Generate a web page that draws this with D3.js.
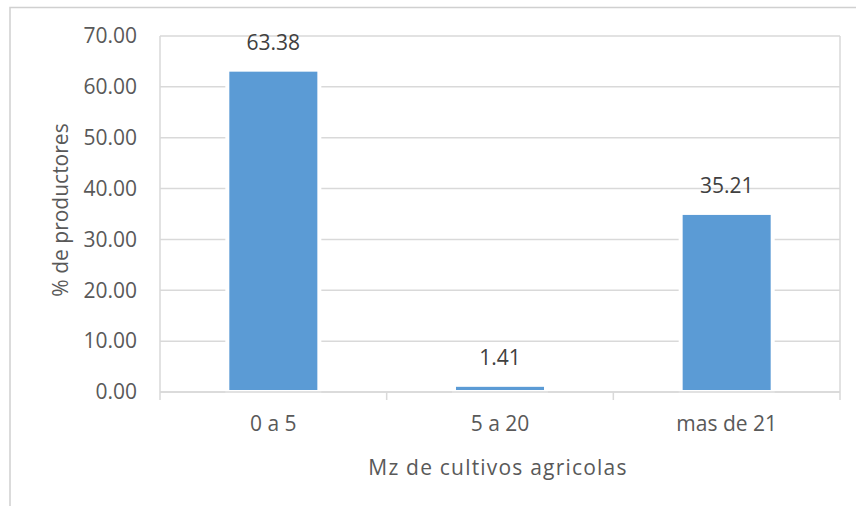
<!DOCTYPE html>
<html>
<head>
<meta charset="utf-8">
<script src="https://cdn.jsdelivr.net/npm/d3@7"></script>
<style>
  body { margin: 0; background: #fff; }
  text { font-family: "Open Sans", sans-serif; }
</style>
</head>
<body>
<div id="chart"></div>
<script>
const categorias = ["0 a 5", "5 a 20", "mas de 21"];
const valores = [63.38, 1.41, 35.21];
const yTicks = [0, 10, 20, 30, 40, 50, 60, 70];

const W = 856, H = 506;
const margin = {top: 36, right: 16, bottom: 114, left: 160};
const width = W - margin.left - margin.right,
      height = H - margin.top - margin.bottom;

const svg0 = d3.select("#chart").append("svg")
    .attr("width", W).attr("height", H);

// marco exterior
svg0.append("rect")
    .attr("x", 10).attr("y", 7.5)
    .attr("width", 900).attr("height", 600)
    .attr("fill", "none").attr("stroke", "#d0d0d0").attr("stroke-width", 1.5);

const svg = svg0.append("g")
    .attr("transform", `translate(${margin.left},${margin.top})`);

const xx = d3.scaleBand()
    .domain(categorias)
    .range([0, width])
    .paddingInner(0.594)
    .paddingOuter(0.297);

const yy = d3.scaleLinear()
    .domain([0, 70])
    .range([height, 0]);

// gridlines
svg.append("g")
    .selectAll("line")
    .data(yTicks)
    .join("line")
    .attr("x1", 0).attr("x2", width)
    .attr("y1", d => yy(d)).attr("y2", d => yy(d))
    .attr("stroke", "#d9d9d9").attr("stroke-width", 1.5);

// borde del area de trazado
svg.append("line").attr("x1", 0).attr("x2", 0).attr("y1", 0).attr("y2", height)
    .attr("stroke", "#d9d9d9").attr("stroke-width", 1.5);
svg.append("line").attr("x1", width).attr("x2", width).attr("y1", 0).attr("y2", height)
    .attr("stroke", "#d9d9d9").attr("stroke-width", 1.5);

// barras
svg.append("g")
    .selectAll("rect")
    .data(valores)
    .join("rect")
    .attr("x", (d, i) => xx(categorias[i]))
    .attr("y", d => yy(d))
    .attr("width", xx.bandwidth())
    .attr("height", d => height - yy(d))
    .attr("fill", "#5b9bd5")
    .attr("stroke", "#ffffff")
    .attr("stroke-width", 4);

// eje x
svg.append("line").attr("x1", 0).attr("x2", width).attr("y1", height).attr("y2", height)
    .attr("stroke", "#d9d9d9").attr("stroke-width", 1.5);
const step = xx.step();
svg.append("g")
    .selectAll("line")
    .data(d3.range(categorias.length + 1))
    .join("line")
    .attr("x1", d => d * step).attr("x2", d => d * step)
    .attr("y1", height).attr("y2", height + 8)
    .attr("stroke", "#d9d9d9").attr("stroke-width", 1.5);

svg.append("g")
    .selectAll("text")
    .data(categorias)
    .join("text")
    .attr("x", d => xx(d) + xx.bandwidth() / 2)
    .attr("y", height + 39)
    .attr("text-anchor", "middle")
    .style("font-size", "21px")
    .style("fill", "#595959")
    .text(d => d);

// eje y
svg.append("g")
    .selectAll("text")
    .data(yTicks)
    .join("text")
    .attr("x", -23)
    .attr("y", d => yy(d))
    .attr("dy", "0.35em")
    .attr("text-anchor", "end")
    .style("font-size", "21px")
    .style("fill", "#595959")
    .text(d => d.toFixed(2));

// etiquetas de datos
svg.append("g")
    .selectAll("text")
    .data(valores)
    .join("text")
    .attr("x", (d, i) => xx(categorias[i]) + xx.bandwidth() / 2)
    .attr("y", d => yy(d) - 20)
    .attr("text-anchor", "middle")
    .style("font-size", "21px")
    .style("fill", "#404040")
    .text(d => d.toFixed(2));

// titulos
svg.append("text")
    .attr("x", width / 2 - 2).attr("y", height + 83)
    .attr("text-anchor", "middle")
    .style("font-size", "21px")
    .style("letter-spacing", "1.2px")
    .style("fill", "#595959")
    .text("Mz de cultivos agricolas");

svg.append("text")
    .attr("transform", "rotate(-90)")
    .attr("x", -height / 2 + 4).attr("y", -92)
    .attr("text-anchor", "middle")
    .style("font-size", "21px")
    .style("fill", "#595959")
    .text("% de productores");
</script>
</body>
</html>
